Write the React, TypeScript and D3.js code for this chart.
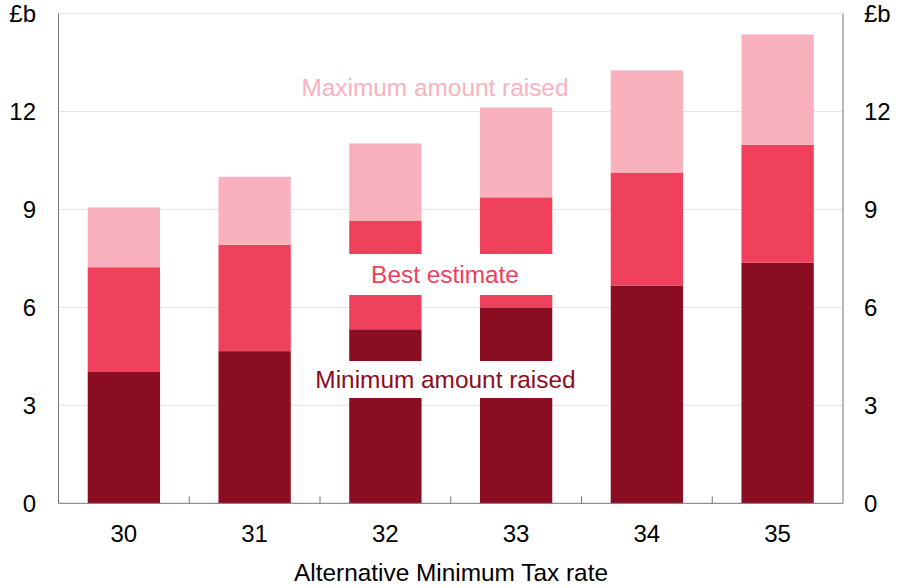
import React, { useEffect, useRef } from 'react';
import * as d3 from 'd3';

// AMT rate categories and the cumulative top of each stacked segment (£b)
const rates = ['30', '31', '32', '33', '34', '35'];
const minimumRaised = [4.02, 4.66, 5.33, 6.0, 6.67, 7.37];
const bestEstimate = [7.23, 7.92, 8.66, 9.37, 10.13, 10.98];
const maximumRaised = [9.06, 10.0, 11.02, 12.12, 13.26, 14.36];
const yTicks = [0, 3, 6, 9, 12, 15];
const yTickLabels = ['0', '3', '6', '9', '12', '£b'];

const DARK = '#8a0d21';
const MID = '#ef405c';
const LIGHT = '#f8b1bd';

export default function App() {
  const ref = useRef<SVGSVGElement>(null);

  useEffect(() => {
    if (!ref.current) return;
    const svg = d3.select(ref.current);
    svg.selectAll('*').remove();

    const width = 902;
    const height = 588;
    const margin = { top: 13.5, right: 59, bottom: 84.7, left: 58.5 };
    const font = '"Liberation Sans", Arial, sans-serif';

    const x = d3.scaleBand()
      .domain(rates)
      .range([margin.left, width - margin.right])
      .paddingInner(0.447)
      .paddingOuter(0.2235);

    const y = d3.scaleLinear()
      .domain([0, 15])
      .range([height - margin.bottom, margin.top]);

    // gridlines
    svg.append('g')
      .selectAll('line')
      .data(yTicks.slice(1))
      .join('line')
      .attr('x1', margin.left)
      .attr('x2', width - margin.right)
      .attr('y1', d => y(d))
      .attr('y2', d => y(d))
      .attr('stroke', '#e4e4e4')
      .attr('stroke-width', 1);

    // stacked segments
    const segments = rates.flatMap((r, i) => [
      { r, lo: 0, hi: minimumRaised[i], fill: DARK },
      { r, lo: minimumRaised[i], hi: bestEstimate[i], fill: MID },
      { r, lo: bestEstimate[i], hi: maximumRaised[i], fill: LIGHT },
    ]);

    svg.append('g')
      .selectAll('rect')
      .data(segments)
      .join('rect')
      .attr('x', d => x(d.r)!)
      .attr('width', x.bandwidth())
      .attr('y', d => y(d.hi))
      .attr('height', d => y(d.lo) - y(d.hi))
      .attr('fill', d => d.fill);

    // series labels sitting on white boxes that cut through the middle bars
    const labels = [
      { text: 'Maximum amount raised', cx: 435, base: 96, color: LIGHT, up: 28, down: 9 },
      { text: 'Best estimate', cx: 445, base: 283, color: MID, up: 29, down: 12 },
      { text: 'Minimum amount raised', cx: 445.5, base: 388, color: DARK, up: 27, down: 10 },
    ];
    const lg = svg.append('g');
    const gapLeft = x('32')! - 2;
    const gapRight = x('33')! + x.bandwidth() + 2;
    labels.forEach(l => {
      const box = lg.append('rect').attr('fill', '#fff');
      const t = lg.append('text')
        .attr('x', l.cx)
        .attr('y', l.base)
        .attr('text-anchor', 'middle')
        .attr('font-family', font)
        .attr('font-size', 24.4)
        .attr('fill', l.color)
        .text(l.text);
      const bb = (t.node() as SVGTextElement).getBBox();
      const x0 = Math.min(bb.x - 6, gapLeft);
      const x1 = Math.max(bb.x + bb.width + 6, gapRight);
      box.attr('x', x0)
        .attr('width', x1 - x0)
        .attr('y', l.base - l.up)
        .attr('height', l.up + l.down);
    });

    // axis frame
    const axisColor = '#767676';
    svg.append('line')
      .attr('x1', margin.left).attr('x2', margin.left)
      .attr('y1', margin.top).attr('y2', y(0))
      .attr('stroke', axisColor);
    svg.append('line')
      .attr('x1', width - margin.right).attr('x2', width - margin.right)
      .attr('y1', margin.top).attr('y2', y(0))
      .attr('stroke', axisColor);
    svg.append('line')
      .attr('x1', margin.left).attr('x2', width - margin.right)
      .attr('y1', y(0)).attr('y2', y(0))
      .attr('stroke', axisColor);

    // x ticks between categories, pointing inwards
    svg.append('g')
      .selectAll('line')
      .data(rates.slice(1))
      .join('line')
      .attr('x1', d => x(d)! - (x.step() - x.bandwidth()) / 2)
      .attr('x2', d => x(d)! - (x.step() - x.bandwidth()) / 2)
      .attr('y1', y(0))
      .attr('y2', y(0) - 7)
      .attr('stroke', axisColor);

    // x tick labels
    svg.append('g')
      .selectAll('text')
      .data(rates)
      .join('text')
      .attr('x', d => x(d)! + x.bandwidth() / 2)
      .attr('y', 542)
      .attr('text-anchor', 'middle')
      .attr('font-family', font)
      .attr('font-size', 24)
      .attr('fill', '#000')
      .text(d => d);

    // y tick labels on both sides
    [
      { xPos: 36, anchor: 'end' },
      { xPos: 864, anchor: 'start' },
    ].forEach(side => {
      svg.append('g')
        .selectAll('text')
        .data(yTicks)
        .join('text')
        .attr('x', side.xPos)
        .attr('y', d => y(d) + 8.6)
        .attr('text-anchor', side.anchor)
        .attr('font-family', font)
        .attr('font-size', 24)
        .attr('fill', '#000')
        .text((d, i) => yTickLabels[i]);
    });

    // axis title
    svg.append('text')
      .attr('x', 451)
      .attr('y', 581)
      .attr('text-anchor', 'middle')
      .attr('font-family', font)
      .attr('font-size', 24.4)
      .attr('fill', '#000')
      .text('Alternative Minimum Tax rate');
  }, []);

  return (
    <svg
      ref={ref}
      width={902}
      height={588}
      style={{ position: 'absolute', left: 0, top: 0, background: '#fff' }}
    />
  );
}
